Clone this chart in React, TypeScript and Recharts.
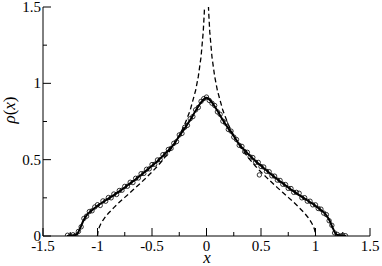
import React from "react";
import {
  ComposedChart,
  Line,
  Scatter,
  XAxis,
  YAxis,
} from "recharts";

// tick values
const xMajor = [-1.5, -1, -0.5, 0, 0.5, 1, 1.5];
const xMinor = [-1.25, -0.75, -0.25, 0.25, 0.75, 1.25];
const yMajor = [0, 0.5, 1, 1.5];
const yMinor = [0.25, 0.75, 1.25];

// dashed curve, right branch and left branch
const dashRightX = [0.015, 0.02, 0.03, 0.05, 0.075, 0.1, 0.15, 0.2, 0.25, 0.3, 0.35, 0.4, 0.45, 0.5, 0.55, 0.6, 0.65, 0.7, 0.75, 0.8, 0.85, 0.9, 0.93, 0.95, 0.97, 0.98, 0.99, 0.995, 1.0];
const dashRightY = [1.56, 1.466, 1.337, 1.174, 1.045, 0.953, 0.823, 0.73, 0.657, 0.596, 0.545, 0.499, 0.457, 0.419, 0.384, 0.35, 0.317, 0.285, 0.253, 0.221, 0.186, 0.149, 0.123, 0.103, 0.079, 0.064, 0.046, 0.032, 0];
const dashLeftX = [-1.0, -0.995, -0.99, -0.98, -0.97, -0.95, -0.93, -0.9, -0.85, -0.8, -0.75, -0.7, -0.65, -0.6, -0.55, -0.5, -0.45, -0.4, -0.35, -0.3, -0.25, -0.2, -0.15, -0.1, -0.075, -0.05, -0.03, -0.02, -0.015];
const dashLeftY = [0, 0.032, 0.046, 0.064, 0.079, 0.103, 0.123, 0.149, 0.186, 0.221, 0.253, 0.285, 0.317, 0.35, 0.384, 0.419, 0.457, 0.499, 0.545, 0.596, 0.657, 0.73, 0.823, 0.953, 1.045, 1.174, 1.337, 1.466, 1.56];

// solid curve
const solidX = [-1.28, -1.24, -1.2, -1.18, -1.16, -1.13, -1.1, -1.07, -1.04, -1.0, -0.95, -0.9, -0.85, -0.8, -0.75, -0.7, -0.65, -0.6, -0.55, -0.5, -0.45, -0.4, -0.35, -0.3, -0.25, -0.2, -0.15, -0.1, -0.05, -0.02, 0, 0.02, 0.05, 0.1, 0.15, 0.2, 0.25, 0.3, 0.35, 0.4, 0.45, 0.5, 0.55, 0.6, 0.65, 0.7, 0.75, 0.8, 0.85, 0.9, 0.95, 1.0, 1.04, 1.07, 1.1, 1.13, 1.16, 1.18, 1.2, 1.24, 1.28];
const solidY = [0, 0.002, 0.006, 0.02, 0.05, 0.1, 0.135, 0.158, 0.175, 0.198, 0.222, 0.245, 0.268, 0.292, 0.318, 0.345, 0.372, 0.4, 0.43, 0.46, 0.49, 0.525, 0.56, 0.6, 0.655, 0.705, 0.76, 0.82, 0.875, 0.898, 0.905, 0.898, 0.875, 0.82, 0.76, 0.705, 0.655, 0.6, 0.56, 0.525, 0.49, 0.46, 0.43, 0.4, 0.372, 0.345, 0.318, 0.292, 0.268, 0.245, 0.222, 0.198, 0.175, 0.158, 0.135, 0.1, 0.05, 0.02, 0.006, 0.002, 0];

// circles
const dotX = [-1.275, -1.25, -1.225, -1.2, -1.175, -1.15, -1.125, -1.1, -1.075, -1.05, -1.025, -1.0, -0.975, -0.95, -0.925, -0.9, -0.875, -0.85, -0.825, -0.8, -0.775, -0.75, -0.725, -0.7, -0.675, -0.65, -0.625, -0.6, -0.575, -0.55, -0.525, -0.5, -0.475, -0.45, -0.425, -0.4, -0.375, -0.35, -0.325, -0.3, -0.275, -0.25, -0.225, -0.2, -0.175, -0.15, -0.125, -0.1, -0.075, -0.05, -0.025, 0, 0.025, 0.05, 0.075, 0.1, 0.125, 0.15, 0.175, 0.2, 0.225, 0.25, 0.275, 0.3, 0.325, 0.35, 0.375, 0.4, 0.425, 0.45, 0.475, 0.485, 0.5, 0.525, 0.55, 0.575, 0.6, 0.625, 0.65, 0.675, 0.7, 0.725, 0.75, 0.775, 0.8, 0.825, 0.85, 0.875, 0.9, 0.925, 0.95, 0.975, 1.0, 1.025, 1.05, 1.075, 1.1, 1.125, 1.15, 1.175, 1.2, 1.225, 1.25, 1.275];
const dotY = [0.005, 0.0, 0.008, 0.004, 0.03, 0.06, 0.115, 0.13, 0.16, 0.165, 0.19, 0.205, 0.2, 0.23, 0.228, 0.252, 0.25, 0.275, 0.272, 0.298, 0.3, 0.325, 0.326, 0.352, 0.35, 0.378, 0.38, 0.408, 0.41, 0.437, 0.44, 0.468, 0.47, 0.498, 0.5, 0.533, 0.536, 0.567, 0.574, 0.607, 0.618, 0.662, 0.672, 0.712, 0.725, 0.768, 0.782, 0.826, 0.842, 0.882, 0.9, 0.91, 0.888, 0.87, 0.855, 0.813, 0.797, 0.752, 0.74, 0.698, 0.687, 0.648, 0.632, 0.594, 0.587, 0.553, 0.548, 0.518, 0.514, 0.483, 0.482, 0.4, 0.455, 0.452, 0.424, 0.421, 0.394, 0.392, 0.366, 0.364, 0.339, 0.337, 0.312, 0.311, 0.286, 0.286, 0.28, 0.25, 0.251, 0.228, 0.228, 0.204, 0.204, 0.18, 0.176, 0.15, 0.14, 0.1, 0.07, 0.02, 0.01, 0.0, 0.005, 0.002];

const dashRight = dashRightX.map((x, i) => ({ x, y: dashRightY[i] }));
const dashLeft = dashLeftX.map((x, i) => ({ x, y: dashLeftY[i] }));
const solid = solidX.map((x, i) => ({ x, y: solidY[i] }));
const dots = dotX.map((x, i) => ({ x, y: dotY[i] }));

const FONT = "serif";

const BottomTick = ({ x, y, payload }: any) => {
  const major = xMajor.includes(payload.value);
  return (
    <g>
      <line x1={x} x2={x} y1={y} y2={y - (major ? 8 : 4)} stroke="#000" />
      {major && (
        <text x={x} y={y + 15} textAnchor="middle" fontFamily={FONT} fontSize={15} fill="#000">
          {String(payload.value)}
        </text>
      )}
    </g>
  );
};

const TopTick = ({ x, y, payload }: any) => {
  const major = xMajor.includes(payload.value);
  return <line x1={x} x2={x} y1={y} y2={y + (major ? 8 : 4)} stroke="#000" />;
};

const LeftTick = ({ x, y, payload }: any) => {
  const major = yMajor.includes(payload.value);
  return (
    <g>
      <line x1={x} x2={x + (major ? 8 : 4)} y1={y} y2={y} stroke="#000" />
      {major && (
        <text x={x - 2} y={y + 5} textAnchor="end" fontFamily={FONT} fontSize={15} fill="#000">
          {String(payload.value)}
        </text>
      )}
    </g>
  );
};

const RightTick = ({ x, y, payload }: any) => {
  const major = yMajor.includes(payload.value);
  return <line x1={x} x2={x - (major ? 8 : 4)} y1={y} y2={y} stroke="#000" />;
};

const Circle = (p: any) => (
  <circle cx={p.cx} cy={p.cy} r={2.2} fill="none" stroke="#000" strokeWidth={0.8} />
);

export default function App() {
  const xTicks = [...xMajor, ...xMinor].sort((a, b) => a - b);
  const yTicks = [...yMajor, ...yMinor].sort((a, b) => a - b);
  return (
    <div style={{ position: "absolute", left: 0, top: 0, width: 382, height: 266, background: "#fff" }}>
      <ComposedChart width={382} height={266} margin={{ top: 7, right: 12, bottom: 0, left: 0 }}>
        <XAxis
          xAxisId="b"
          type="number"
          dataKey="x"
          domain={[-1.5, 1.5]}
          ticks={xTicks}
          interval={0}
          allowDataOverflow
          height={30}
          tickSize={0}
          tickMargin={0}
          tickLine={false}
          axisLine={{ stroke: "#000" }}
          tick={<BottomTick />}
        />
        <XAxis
          xAxisId="t"
          orientation="top"
          type="number"
          dataKey="x"
          domain={[-1.5, 1.5]}
          ticks={xTicks}
          interval={0}
          allowDataOverflow
          height={0}
          tickSize={0}
          tickMargin={0}
          tickLine={false}
          axisLine={{ stroke: "#000" }}
          tick={<TopTick />}
        />
        <YAxis
          yAxisId="l"
          type="number"
          domain={[0, 1.5]}
          ticks={yTicks}
          interval={0}
          allowDataOverflow
          width={43}
          tickSize={0}
          tickMargin={0}
          tickLine={false}
          axisLine={{ stroke: "#000" }}
          tick={<LeftTick />}
        />
        <YAxis
          yAxisId="r"
          orientation="right"
          type="number"
          domain={[0, 1.5]}
          ticks={yTicks}
          interval={0}
          allowDataOverflow
          width={0}
          tickSize={0}
          tickMargin={0}
          tickLine={false}
          axisLine={{ stroke: "#000" }}
          tick={<RightTick />}
        />
        <Line xAxisId="b" yAxisId="l" data={dashLeft} dataKey="y" type="linear" stroke="#000" strokeWidth={1.3} strokeDasharray="5 3" dot={false} isAnimationActive={false} />
        <Line xAxisId="b" yAxisId="l" data={dashRight} dataKey="y" type="linear" stroke="#000" strokeWidth={1.3} strokeDasharray="5 3" dot={false} isAnimationActive={false} />
        <Scatter xAxisId="b" yAxisId="l" data={dots} dataKey="y" shape={<Circle />} isAnimationActive={false} />
        <Line xAxisId="b" yAxisId="l" data={solid} dataKey="y" type="monotone" stroke="#000" strokeWidth={2} dot={false} isAnimationActive={false} />
        <text x={207} y={263} textAnchor="middle" fontFamily={FONT} fontSize={17} fontStyle="italic">x</text>
        <text x={15} y={110} textAnchor="middle" fontFamily={FONT} fontSize={17} transform="rotate(-90 15 110)">
          <tspan fontStyle="italic">ρ</tspan>
          <tspan>(</tspan>
          <tspan fontStyle="italic">x</tspan>
          <tspan>)</tspan>
        </text>
      </ComposedChart>
    </div>
  );
}
